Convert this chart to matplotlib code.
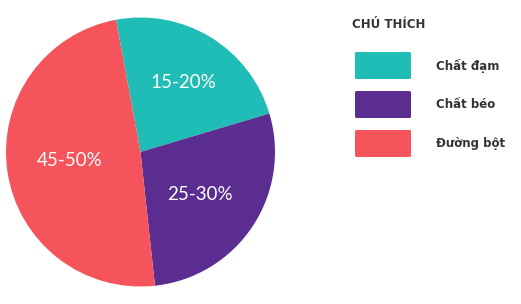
import matplotlib
matplotlib.use("Agg")
import matplotlib.pyplot as plt
from matplotlib.patches import FancyBboxPatch

categories = ["Chất đạm", "Chất béo", "Đường bột"]
values = [23.3, 27.9, 48.8]
labels = ["15-20%", "25-30%", "45-50%"]
colors = ["#20bdb6", "#5c2d91", "#f5545c"]

fig = plt.figure(figsize=(5.21, 3.04), dpi=100)
W, H = 521, 304
cx, cy, r = 140.5, 152, 134.5
ax = fig.add_axes([(cx - r) / W, 1 - (cy + r) / H, 2 * r / W, 2 * r / H])
wedges, texts = ax.pie(values, colors=colors, startangle=100.5, counterclock=False,
                       labels=labels, labeldistance=None,
                       wedgeprops=dict(linewidth=0))
ax.set_aspect("equal")
ax.set_xlim(-1, 1)
ax.set_ylim(-1, 1)
ax.axis("off")

label_pos = [(183, 83), (200, 195), (70, 160)]
for (px, py), lab in zip(label_pos, labels):
    fig.text(px / W, 1 - py / H, lab, color="white", fontsize=13.5, family="Lato",
             ha="center", va="center")

fig.text(352 / W, 1 - 24 / H, "CHÚ THÍCH", fontsize=8.5, fontweight="bold",
         color="#333333", ha="left", va="center", family="DejaVu Sans")

# legend (manual swatches, pixel layout)
tops = [52, 91, 130]
for top, c, name in zip(tops, colors, categories):
    box = FancyBboxPatch((355 / W, 1 - (top + 27) / H), 56 / W, 27 / H,
                         boxstyle="round,pad=0,rounding_size=0.004",
                         transform=fig.transFigure, facecolor=c, edgecolor="none")
    fig.patches.append(box)
    fig.text(436 / W, 1 - (top + 14) / H, name, fontsize=8.5, fontweight="bold",
             color="#333333", ha="left", va="center", family="DejaVu Sans")

fig.savefig("out.png", dpi=100)
